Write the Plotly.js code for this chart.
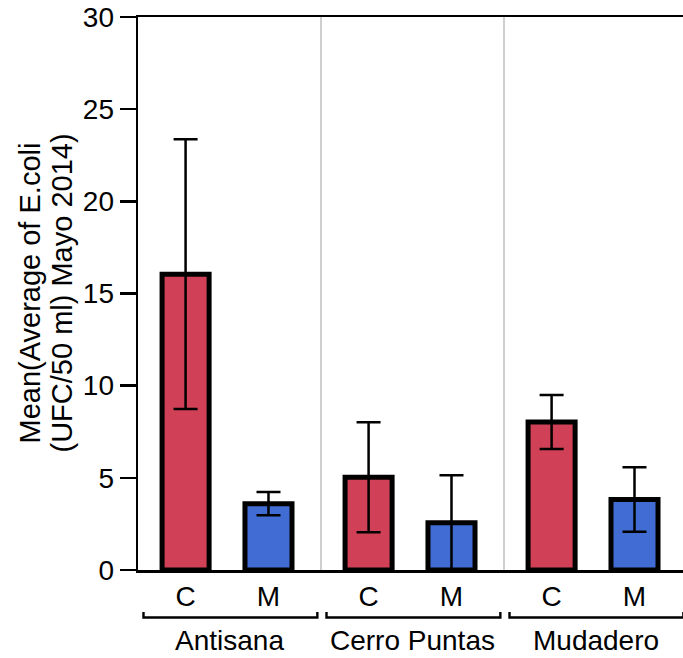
<!DOCTYPE html>
<html>
<head>
<meta charset="utf-8">
<script src="https://cdn.plot.ly/plotly-3.0.1.min.js"></script>
<style>
  html, body { margin: 0; padding: 0; background: #fff; }
  #chart { width: 683px; height: 658px; }
</style>
</head>
<body>
<div id="chart"></div>
<script>
// ---- data ----
const groups = ["Antisana", "Cerro Puntas", "Mudadero"];
const treatments = ["C", "M"];
const meansC = [16.05, 5.03, 8.03];
const meansM = [3.6, 2.57, 3.83];
const errC = [7.32, 2.98, 1.46];
const errM = [0.63, 2.57, 1.75];
const yTicks = [0, 5, 10, 15, 20, 25, 30];
const yTitleLines = ["Mean(Average of E.coli", "(UFC/50 ml) Mayo 2014)"];

// ---- layout helpers ----
const offsets = [0.26, 0.713];      // bar position inside each group (group = 1 unit)
const barW = 0.257;
const xRange = [0, 2.978];
const FONT = "Liberation Sans, Arial, Helvetica, sans-serif";
const FS = 28;
const FT = 29;

function pos(t) { return groups.map((g, i) => i + offsets[t]); }
function px(xd) { return (xd - xRange[0]) / (xRange[1] - xRange[0]); }

const traces = [
  {
    type: "bar", x: pos(0), y: meansC, width: barW,
    marker: { color: "#D04057", line: { color: "#000", width: 5 } },
    error_y: { type: "data", array: errC, visible: true, color: "#000", thickness: 2.5, width: 12 },
    hoverinfo: "y", showlegend: false
  },
  {
    type: "bar", x: pos(1), y: meansM, width: barW,
    marker: { color: "#416CD3", line: { color: "#000", width: 5 } },
    error_y: { type: "data", array: errM, visible: true, color: "#000", thickness: 2.5, width: 12 },
    hoverinfo: "y", showlegend: false
  }
];

const tickvals = [], ticktext = [];
groups.forEach((g, i) => {
  treatments.forEach((t, k) => { tickvals.push(i + offsets[k]); ticktext.push(t); });
});

const shapes = [];
// gray group separators
for (let i = 1; i < groups.length; i++) {
  shapes.push({ type: "line", xref: "x", yref: "paper", x0: i, x1: i, y0: 0, y1: 1,
    line: { color: "#cfcfcf", width: 2 }, layer: "below" });
}
// brackets under groups
const yB = -0.0860, yT = -0.0760;
groups.forEach((g, i) => {
  const a = px(i + 0.03), b = px(i + 0.98);
  shapes.push({ type: "path", xref: "paper", yref: "paper",
    path: `M ${a} ${yT} L ${a} ${yB} L ${b} ${yB} L ${b} ${yT}`,
    line: { color: "#000", width: 2.4 } });
});

const annotations = groups.map((g, i) => ({
  text: g, xref: "x", yref: "paper", x: i + 0.5, y: -0.128,
  xanchor: "center", yanchor: "middle", showarrow: false,
  font: { family: FONT, size: FS, color: "#000" }
}));
const titleX = [29, 61];
yTitleLines.forEach((t, k) => {
  annotations.push({
    text: t, xref: "paper", yref: "paper",
    x: (titleX[k] - 138) / 545, y: 0.5,
    xanchor: "center", yanchor: "middle", textangle: -90, showarrow: false,
    font: { family: FONT, size: FT, color: "#000" }
  });
});

const layout = {
  width: 683, height: 658,
  margin: { l: 138, r: 0, t: 17, b: 88, pad: 0 },
  paper_bgcolor: "#fff", plot_bgcolor: "#fff",
  font: { family: FONT, size: FS, color: "#000" },
  bargap: 0,
  xaxis: {
    range: xRange, tickvals: tickvals, ticktext: ticktext,
    showgrid: false, zeroline: false, ticks: "",
    showline: true, mirror: true, linecolor: "#000", linewidth: 2.5,
    tickfont: { family: FONT, size: FS, color: "#000" },
    ticklabelstandoff: 0, fixedrange: true
  },
  yaxis: {
    range: [0, 30], tickvals: yTicks, ticktext: yTicks.map(String),
    showgrid: false, zeroline: false,
    ticks: "outside", ticklen: 16, tickwidth: 2.4, tickcolor: "#000",
    showline: true, linecolor: "#000", linewidth: 2.4,
    tickfont: { family: FONT, size: FS, color: "#000" },
    ticklabelstandoff: 0, fixedrange: true
  },
  shapes: shapes,
  annotations: annotations
};

Plotly.newPlot("chart", traces, layout, { displayModeBar: false, staticPlot: true });
</script>
</body>
</html>
